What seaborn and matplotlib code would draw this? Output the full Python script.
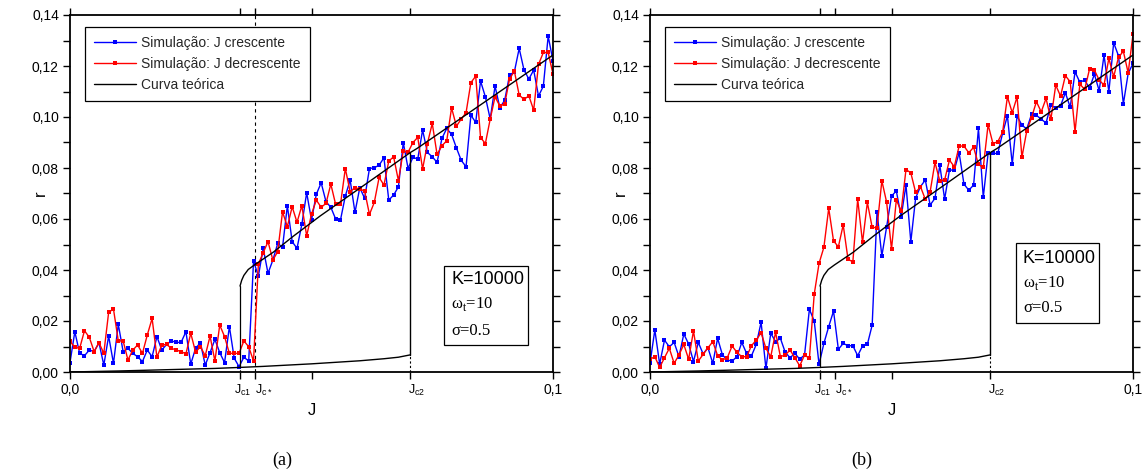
import numpy as np
import matplotlib
matplotlib.use('Agg')
import matplotlib.pyplot as plt
import matplotlib.transforms as mtransforms
import seaborn as sns
from matplotlib.ticker import FuncFormatter, FixedLocator, MultipleLocator
from matplotlib.patches import Rectangle

# ---------------- data ----------------
J = np.round(np.arange(101) * 0.001, 3)

blue_a = [0.0037, 0.0158, 0.0073, 0.0064, 0.0086, 0.0080, 0.0115, 0.0027, 0.0141, 0.0034,
          0.0187, 0.0080, 0.0093, 0.0073, 0.0060, 0.0041, 0.0086, 0.0060, 0.0139, 0.0086,
          0.0108, 0.0122, 0.0116, 0.0116, 0.0158, 0.0031, 0.0093, 0.0115, 0.0027, 0.0076,
          0.0128, 0.0076, 0.0037, 0.0178, 0.0054, 0.0021, 0.0058, 0.0043, 0.0435, 0.0376,
          0.0485, 0.0387, 0.0439, 0.0504, 0.0489, 0.0652, 0.0511, 0.0485, 0.0579, 0.0703,
          0.0596, 0.0697, 0.0742, 0.0668, 0.0646, 0.0600, 0.0596, 0.0690, 0.0753, 0.0626,
          0.0723, 0.0681, 0.0798, 0.0801, 0.0811, 0.0840, 0.0674, 0.0694, 0.0726, 0.0900,
          0.0798, 0.0842, 0.0835, 0.0949, 0.0861, 0.0844, 0.0822, 0.0916, 0.0955, 0.0932,
          0.0879, 0.0830, 0.0805, 0.1007, 0.0979, 0.1141, 0.1079, 0.0992, 0.1121, 0.1036,
          0.1066, 0.1164, 0.1177, 0.1269, 0.1184, 0.1149, 0.1184, 0.1082, 0.1121, 0.1317,
          0.1220]

red_a = [0.0120, 0.0097, 0.0093, 0.0162, 0.0136, 0.0080, 0.0115, 0.0073, 0.0234, 0.0247,
         0.0122, 0.0122, 0.0047, 0.0086, 0.0106, 0.0073, 0.0145, 0.0210, 0.0058, 0.0106,
         0.0108, 0.0093, 0.0086, 0.0080, 0.0071, 0.0152, 0.0078, 0.0099, 0.0064, 0.0141,
         0.0043, 0.0184, 0.0139, 0.0073, 0.0073, 0.0073, 0.0122, 0.0099, 0.0043, 0.0423,
         0.0468, 0.0511, 0.0439, 0.0472, 0.0628, 0.0570, 0.0648, 0.0587, 0.0652, 0.0534,
         0.0619, 0.0674, 0.0646, 0.0661, 0.0737, 0.0657, 0.0657, 0.0798, 0.0707, 0.0723,
         0.0717, 0.0710, 0.0618, 0.0665, 0.0763, 0.0733, 0.0827, 0.0844, 0.0750, 0.0867,
         0.0862, 0.0900, 0.0920, 0.0796, 0.0896, 0.0975, 0.0853, 0.0887, 0.0907, 0.1036,
         0.0964, 0.0992, 0.1017, 0.1135, 0.1160, 0.0919, 0.0896, 0.0992, 0.1079, 0.1043,
         0.1051, 0.1149, 0.1180, 0.1086, 0.1069, 0.1083, 0.1027, 0.1206, 0.1253, 0.1253,
         0.1168]

blue_b = [0.0034, 0.0165, 0.0031, 0.0125, 0.0099, 0.0116, 0.0060, 0.0149, 0.0110, 0.0041,
          0.0116, 0.0071, 0.0095, 0.0034, 0.0132, 0.0067, 0.0047, 0.0043, 0.0060, 0.0116,
          0.0073, 0.0063, 0.0108, 0.0195, 0.0014, 0.0152, 0.0119, 0.0132, 0.0077, 0.0056,
          0.0073, 0.0050, 0.0067, 0.0246, 0.0200, 0.0030, 0.0112, 0.0178, 0.0239, 0.0089,
          0.0112, 0.0103, 0.0103, 0.0064, 0.0102, 0.0108, 0.0184, 0.0628, 0.0455, 0.0570,
          0.0690, 0.0710, 0.0609, 0.0733, 0.0511, 0.0683, 0.0727, 0.0753, 0.0655, 0.0681,
          0.0811, 0.0678, 0.0792, 0.0792, 0.0860, 0.0737, 0.0713, 0.0733, 0.0955, 0.0685,
          0.0857, 0.0857, 0.0857, 0.0936, 0.1005, 0.0815, 0.1004, 0.0968, 0.0953, 0.1011,
          0.1007, 0.0991, 0.0977, 0.1047, 0.1034, 0.1044, 0.1095, 0.1038, 0.1177, 0.1136,
          0.1145, 0.1112, 0.1168, 0.1103, 0.1243, 0.1099, 0.1291, 0.1240, 0.1051, 0.1171,
          0.1210]

red_b = [0.0050, 0.0060, 0.0018, 0.0056, 0.0093, 0.0034, 0.0067, 0.0108, 0.0050, 0.0161,
         0.0043, 0.0069, 0.0095, 0.0119, 0.0064, 0.0047, 0.0056, 0.0102, 0.0077, 0.0060,
         0.0060, 0.0103, 0.0125, 0.0154, 0.0093, 0.0060, 0.0156, 0.0060, 0.0067, 0.0086,
         0.0056, 0.0024, 0.0067, 0.0053, 0.0305, 0.0426, 0.0489, 0.0642, 0.0514, 0.0491,
         0.0577, 0.0442, 0.0432, 0.0678, 0.0508, 0.0665, 0.0567, 0.0566, 0.0750, 0.0665,
         0.0481, 0.0675, 0.0631, 0.0794, 0.0781, 0.0704, 0.0727, 0.0677, 0.0707, 0.0822,
         0.0749, 0.0753, 0.0831, 0.0805, 0.0886, 0.0886, 0.0860, 0.0881, 0.0814, 0.0802,
         0.0970, 0.0896, 0.0903, 0.0940, 0.1079, 0.1017, 0.1079, 0.0842, 0.0945, 0.0998,
         0.1060, 0.1020, 0.1073, 0.0991, 0.1125, 0.1082, 0.1162, 0.1138, 0.0942, 0.1129,
         0.1108, 0.1188, 0.1184, 0.1145, 0.1125, 0.1230, 0.1158, 0.1234, 0.1258, 0.1173,
         0.1324]

# theoretical curve
lower_J = [0.0, 0.01, 0.02, 0.03, 0.0352, 0.04, 0.05, 0.06, 0.065, 0.068, 0.0704]
lower_r = [0.0, 0.0004, 0.0009, 0.0014, 0.0018, 0.0022, 0.0032, 0.0044, 0.0052, 0.0058, 0.0067]
upper_J = [0.0352, 0.03555, 0.0360, 0.0369, 0.0382, 0.0400, 0.0421, 0.0462, 0.0490, 0.0518,
           0.0628, 0.0704, 0.0718, 0.0821, 0.1000]
upper_r = [0.0337, 0.0360, 0.0379, 0.0402, 0.0420, 0.0443, 0.0470, 0.0532, 0.0572, 0.0612,
           0.0758, 0.0860, 0.0876, 0.1010, 0.1243]

Jc1, Jcs, Jc2 = 0.0352, 0.0382, 0.0704
xtick_pos = [0.0, Jc1, Jcs, Jc2, 0.1]
xtick_lab = ['0,0', r'J$_\mathregular{c1}$', r'J$_\mathregular{c*}$', r'J$_\mathregular{c2}$', '0,1']

# ---------------- style ----------------
sns.set_theme(style='ticks')
plt.rcParams['font.family'] = ['Liberation Sans', 'DejaVu Sans']
plt.rcParams['mathtext.fontset'] = 'custom'
plt.rcParams['mathtext.rm'] = 'Liberation Sans'

fig = plt.figure(figsize=(11.42, 4.72), dpi=100)
W, H = 1142, 472
ax_a = fig.add_axes([70 / W, 1 - 372 / H, 483 / W, 357 / H])
ax_b = fig.add_axes([650 / W, 1 - 372 / H, 483 / W, 357 / H])


def draw(ax, blue, red, star_line, box, txt_x, txt_y):
    sns.lineplot(x=J, y=blue, ax=ax, color='#0000ff', marker='s', markersize=3.3,
                 markeredgewidth=0, linewidth=1.0, estimator=None, sort=False,
                 label='Simulação: J crescente', zorder=2)
    sns.lineplot(x=J, y=red, ax=ax, color='#ff0000', marker='s', markersize=3.3,
                 markeredgewidth=0, linewidth=1.0, estimator=None, sort=False,
                 label='Simulação: J decrescente', zorder=2)
    sns.lineplot(x=upper_J, y=upper_r, ax=ax, color='black', linewidth=1.0,
                 estimator=None, sort=False, label='Curva teórica', zorder=3)
    sns.lineplot(x=lower_J, y=lower_r, ax=ax, color='black', linewidth=1.0,
                 estimator=None, sort=False, zorder=3)
    # jumps of the theoretical curve
    ax.plot([Jc1, Jc1], [lower_r[4], upper_r[0]], color='black', lw=0.9, zorder=3)
    ax.plot([Jc2, Jc2], [lower_r[-1], upper_r[11]], color='black', lw=1.0, zorder=3)
    ax.plot([Jc1, Jc1], [0, lower_r[4]], color='black', lw=0.8, ls=(0, (2, 2)), zorder=3)
    ax.plot([Jc2, Jc2], [0, lower_r[-1]], color='black', lw=0.8, ls=(0, (2, 2)), zorder=3)
    if star_line:
        ax.axvline(Jcs, color='black', lw=0.8, ls=(0, (3, 3)), zorder=1)

    ax.set_xlim(0, 0.1)
    ax.set_ylim(0, 0.14)
    ax.xaxis.set_major_locator(FixedLocator(xtick_pos))
    ax.set_xticklabels(xtick_lab)
    ax.xaxis.set_minor_locator(FixedLocator([0.05]))
    ax.yaxis.set_major_locator(MultipleLocator(0.02))
    ax.yaxis.set_minor_locator(MultipleLocator(0.01))
    ax.yaxis.set_major_formatter(FuncFormatter(lambda v, p: f'{v:.2f}'.replace('.', ',')))
    ax.tick_params(which='both', direction='out', top=True, right=True, length=5,
                   width=1.0, color='black', labelsize=10, labelcolor='black', pad=3)
    # J-labels: keep J_c1 and J_c* apart, the letter J near its tick
    labs = ax.get_xticklabels()
    settings = [(labs[1], 'right', 0.11), (labs[2], 'left', 0.0), (labs[3], 'left', -0.025)]
    for lab, ha, dx in settings:
        lab.set_horizontalalignment(ha)
        lab.set_fontsize(9)
        lab.set_transform(lab.get_transform() +
                          mtransforms.ScaledTranslation(dx, 0, fig.dpi_scale_trans))
    for s in ax.spines.values():
        s.set_linewidth(1.3)
        s.set_color('black')
        s.set_visible(True)

    ax.set_xlabel('J', fontsize=12, color='black')
    ax.set_ylabel('r', fontsize=12, color='black')
    ax.xaxis.set_label_coords(0.5, -0.088)
    ax.yaxis.set_label_coords(-0.045, 0.5)

    leg = ax.legend(loc='upper left', bbox_to_anchor=(0.031, 0.966), borderaxespad=0,
                    fontsize=10, frameon=True, fancybox=False, framealpha=1,
                    edgecolor='black', handlelength=3.0, handletextpad=0.4,
                    labelspacing=0.5, borderpad=0.65, numpoints=1)
    leg.get_frame().set_linewidth(0.9)

    bx, by, bw, bh = box
    ax.add_patch(Rectangle((bx, by), bw, bh, transform=ax.transAxes, facecolor='white',
                           edgecolor='black', lw=0.9, zorder=5))
    ax.text(txt_x, txt_y[0], 'K=10000', transform=ax.transAxes, fontsize=13,
            va='center', ha='left', zorder=6, color='black')
    ax.text(txt_x, txt_y[1], r'ω$_\mathregular{t}$=10', transform=ax.transAxes,
            fontsize=12, family=['Liberation Serif', 'DejaVu Serif'],
            va='center', ha='left', zorder=6, color='black')
    ax.text(txt_x, txt_y[2], 'σ=0.5', transform=ax.transAxes,
            fontsize=12, family=['Liberation Serif', 'DejaVu Serif'],
            va='center', ha='left', zorder=6, color='black')


draw(ax_a, blue_a, red_a, True, (0.774, 0.0756, 0.174, 0.221), 0.789, (0.258, 0.190, 0.116))
draw(ax_b, blue_b, red_b, False, (0.758, 0.137, 0.172, 0.224), 0.772, (0.317, 0.250, 0.178))

fig.text(282 / W, 1 - 460 / H, '(a)', ha='center', va='center', fontsize=13,
         family=['Liberation Serif', 'DejaVu Serif'], color='black')
fig.text(862 / W, 1 - 460 / H, '(b)', ha='center', va='center', fontsize=13,
         family=['Liberation Serif', 'DejaVu Serif'], color='black')

fig.savefig('out.png', dpi=100, facecolor='white')
